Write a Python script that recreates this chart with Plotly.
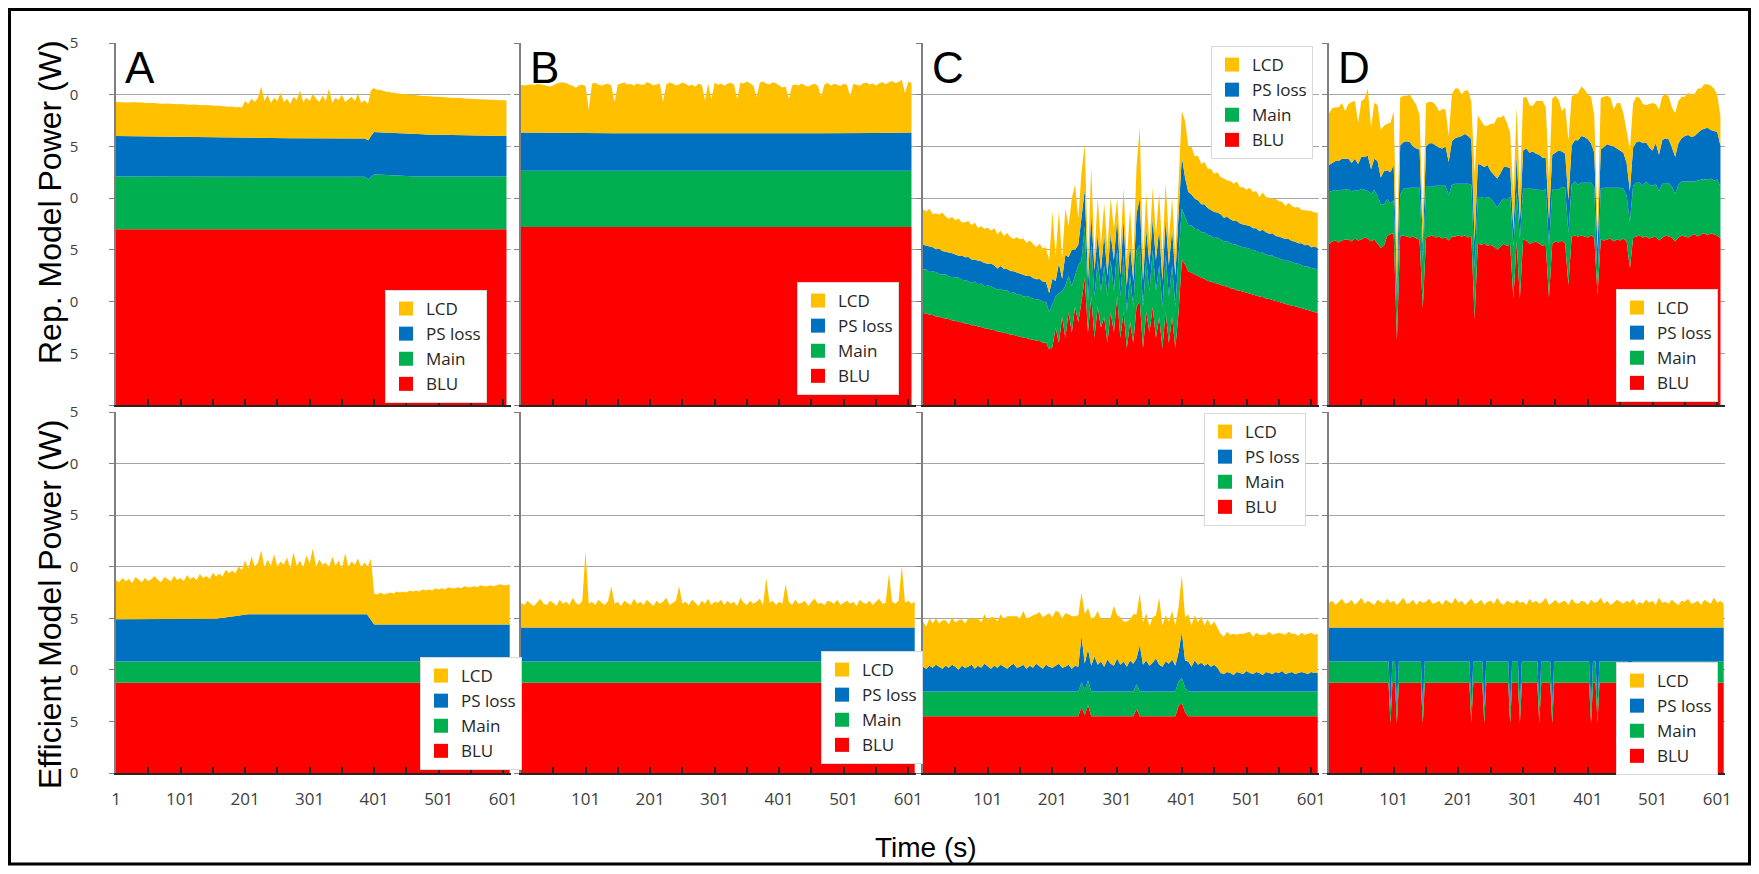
import plotly.graph_objects as go

# page is 1759x874; the browser's default 8 px body margin surrounds the figure
PAGE_OFF = 8
W, H = 1759 - 2 * PAGE_OFF, 874 - 2 * PAGE_OFF

# ---------------- data ----------------
SERIES = ["BLU", "Main", "PS loss", "LCD"]
COLORS = {"BLU": "#FF0000", "Main": "#00B050", "PS loss": "#0070C0", "LCD": "#FFC000"}
LEGEND_ORDER = ["LCD", "PS loss", "Main", "BLU"]

X_TICK_VALS = [1, 51, 101, 151, 201, 251, 301, 351, 401, 451, 501, 551, 601]
X_TICK_TEXT_FIRST = ["1", "", "101", "", "201", "", "301", "", "401", "", "501", "", "601"]
X_TICK_TEXT_OTHER = ["", "", "101", "", "201", "", "301", "", "401", "", "501", "", "601"]
Y_TICK_VALS = [0, 5, 10, 15, 20, 25, 30, 35]
Y_TICK_TEXT_REP = ["", "5", "0", "5", "0", "5", "0", "5"]
Y_TICK_TEXT_EFF = ["0", "5", "0", "5", "0", "5", "0", "5"]

T5_606 = list(range(1, 607, 5))   # time (s), every 5 s
T5_611 = list(range(1, 612, 5))

# ---- A, representative model ----
A_rep_BLU_t = [1, 606]
A_rep_BLU = [17.0, 17.0]
A_rep_Main_t = [1, 385, 392, 400, 450, 606]
A_rep_Main = [5.1, 5.1, 4.8, 5.3, 5.1, 5.1]
A_rep_PS_t = [1, 200, 385, 392, 400, 450, 606]
A_rep_PS = [3.9, 3.7, 3.7, 3.8, 4.1, 4.1, 3.9]
A_rep_LCD = [3.30, 3.28, 3.32, 3.30, 3.27, 3.29, 3.31, 3.26, 3.28, 3.25,
             3.27, 3.24, 3.26, 3.22, 3.25, 3.21, 3.23, 3.20, 3.22, 3.18,
             3.20, 3.17, 3.19, 3.15, 3.17, 3.14, 3.16, 3.12, 3.14, 3.10,
             3.12, 3.08, 3.10, 3.05, 3.07, 3.02, 3.04, 2.98, 3.00, 2.95,
             3.6, 3.3, 3.8, 3.5, 3.9, 5.0, 3.6, 4.2, 3.4, 3.9,
             3.6, 4.4, 3.5, 3.8, 3.3, 4.0, 3.7, 4.6, 3.5, 3.9,
             3.6, 4.3, 3.8, 3.5, 4.1, 3.6, 4.8, 3.4, 3.9, 3.7,
             4.2, 3.5, 3.8, 4.0, 3.6, 4.3, 3.4, 3.7, 3.5,
             4.4, 4.2, 4.1, 4.1, 4.0, 3.95, 3.95, 3.9, 3.9, 3.85,
             3.85, 3.8, 3.8, 3.8, 3.75, 3.75, 3.7, 3.72, 3.68, 3.7,
             3.66, 3.68, 3.64, 3.66, 3.62, 3.6, 3.62, 3.58, 3.6, 3.56,
             3.55, 3.56, 3.52, 3.54, 3.5, 3.52, 3.48, 3.5, 3.46, 3.48,
             3.45, 3.46, 3.44]

# ---- B, representative model ----
B_rep_BLU_t = [1, 606]
B_rep_BLU = [17.2, 17.2]
B_rep_Main_t = [1, 606]
B_rep_Main = [5.45, 5.45]
B_rep_PS_t = [1, 100, 200, 300, 400, 500, 606]
B_rep_PS = [3.7, 3.6, 3.65, 3.6, 3.65, 3.6, 3.7]
B_rep_LCD = [4.6, 4.55, 4.6, 4.65, 4.6, 4.7, 4.7, 4.6, 4.55, 4.5,
             4.6, 4.8, 4.9, 4.9, 4.85, 4.7, 4.6, 4.4, 4.65, 4.7,
             4.6, 2.3, 4.8, 4.9, 4.7, 4.6, 4.75, 4.8, 4.6, 3.0,
             4.7, 4.8, 4.9, 4.7, 4.75, 4.6, 4.8, 4.7, 4.65, 4.9,
             4.8, 4.6, 4.7, 4.8, 3.0, 4.7, 4.9, 4.8, 4.6, 4.7,
             4.9, 4.8, 4.6, 4.7, 4.5, 4.8, 4.7, 3.2, 4.8, 3.3,
             4.9, 4.7, 4.8, 4.6, 4.8, 4.9, 4.7, 3.3, 4.9, 4.8,
             5.0, 4.8, 4.6, 3.5, 4.9, 5.0, 4.8, 4.7, 4.9, 4.8,
             4.6, 4.4, 4.5, 3.3, 4.6, 4.7, 4.6, 4.8, 4.6, 4.5,
             4.7, 4.8, 4.6, 3.5, 4.7, 4.9, 4.6, 4.8, 4.7, 4.6,
             4.8, 4.7, 3.6, 4.8, 4.7, 4.6, 4.8, 4.9, 4.7, 4.8,
             4.6, 4.8, 4.9, 4.7, 4.9, 5.0, 4.8, 4.9, 5.1, 3.8,
             4.9, 4.8]

# ---- C, representative model (every 5 s, 1..611) ----
C_rep_BLU = [8.90, 8.85, 8.72, 8.70, 8.55, 8.56, 8.40, 8.38, 8.31, 8.18,
             8.16, 8.02, 8.00, 7.88, 7.85, 7.72, 7.70, 7.58, 7.55, 7.42,
             7.40, 7.28, 7.25, 7.10, 7.09, 6.95, 6.94, 6.80, 6.79, 6.66,
             6.63, 6.50, 6.48, 6.35, 6.33, 6.20, 6.18, 6.05, 6.02,
             5.4, 5.6, 7.5, 6.0, 8.5, 6.5, 9.0, 7.0, 9.5, 8.0,
             10.0, 12.3, 7.0, 10.5, 6.5, 9.5, 7.5, 8.5, 6.0, 9.0,
             7.0, 10.5, 6.5, 9.0, 5.5, 8.0, 6.0, 9.5, 10.0, 5.5,
             9.0, 7.0, 9.5, 6.5, 8.5, 5.5, 9.0, 6.0, 8.5, 5.5,
             9.0, 14.0,
             13.6, 12.9, 12.8, 12.6, 12.5, 12.3, 12.2, 12.0, 11.95, 11.8,
             11.75, 11.6, 11.5, 11.45, 11.3, 11.25, 11.1, 11.05, 10.95, 10.85,
             10.8, 10.7, 10.6, 10.5, 10.45, 10.3, 10.25, 10.15, 10.05, 9.95,
             9.9, 9.8, 9.7, 9.6, 9.55, 9.45, 9.35, 9.25, 9.2, 9.1,
             9.0, 8.9]
C_rep_Main = [4.2, 4.25, 4.15, 4.2, 4.3, 4.1, 4.2, 4.25, 4.1, 4.2,
              4.15, 4.3, 4.1, 4.2, 4.15, 4.1, 4.25, 4.1, 4.2, 4.05,
              4.15, 4.2, 4.1, 4.05, 4.15, 4.1, 4.2, 4.0, 4.1, 4.05,
              4.1, 4.0, 4.05, 4.1, 3.95, 4.05, 4.0, 3.95, 4.0,
              3.6, 4.2, 3.0, 4.8, 2.5, 5.0, 3.5, 4.5, 3.0, 5.5,
              4.0, 5.0, 3.0, 5.0, 4.0, 4.5, 3.5, 5.0, 4.5, 5.0,
              4.0, 4.5, 4.0, 5.5, 3.5, 4.5, 3.5, 5.5, 5.5, 4.0,
              5.0, 4.0, 5.5, 4.5, 5.0, 4.0, 5.5, 4.5, 5.0, 4.0,
              5.5, 5.0,
              4.6, 4.5, 4.55, 4.45, 4.5, 4.4, 4.5, 4.45, 4.4, 4.35,
              4.45, 4.4, 4.3, 4.4, 4.35, 4.3, 4.4, 4.3, 4.25, 4.35,
              4.3, 4.25, 4.3, 4.2, 4.3, 4.25, 4.2, 4.3, 4.2, 4.25,
              4.2, 4.15, 4.25, 4.2, 4.15, 4.2, 4.2, 4.15, 4.2, 4.15,
              4.2, 4.2]
C_rep_PS = [2.4, 2.3, 2.5, 2.35, 2.2, 2.45, 2.3, 2.2, 2.4, 2.3,
            2.25, 2.1, 2.35, 2.2, 2.3, 2.25, 2.1, 2.3, 2.15, 2.25,
            2.1, 2.2, 2.15, 2.05, 2.2, 2.1, 2.0, 2.15, 2.05, 2.1,
            2.0, 2.1, 1.95, 2.05, 2.0, 1.9, 2.0, 1.95, 1.9,
            1.8, 2.4, 1.5, 2.9, 1.2, 3.0, 1.8, 3.5, 2.5, 2.0,
            4.5, 3.5, 2.0, 3.0, 2.5, 2.5, 2.0, 3.0, 2.0, 2.5,
            3.0, 3.0, 2.0, 3.5, 2.5, 3.0, 2.5, 3.5, 4.5, 2.5,
            3.0, 2.5, 3.0, 3.0, 3.5, 2.5, 3.5, 3.0, 3.5, 3.0,
            4.0, 5.0,
            3.8, 3.2, 3.0, 2.9, 2.8, 2.7, 2.7, 2.6, 2.5, 2.5,
            2.4, 2.45, 2.3, 2.35, 2.3, 2.25, 2.3, 2.2, 2.25, 2.2,
            2.2, 2.15, 2.2, 2.1, 2.2, 2.15, 2.1, 2.15, 2.1, 2.1,
            2.05, 2.1, 2.1, 2.05, 2.1, 2.0, 2.1, 2.05, 2.1, 2.0,
            2.1, 2.1]
C_rep_LCD = [3.4, 3.3, 3.6, 3.2, 3.5, 3.3, 3.7, 3.4, 3.2, 3.5,
             3.3, 3.6, 3.2, 3.4, 3.5, 3.3, 3.6, 3.1, 3.4, 3.3,
             3.5, 3.2, 3.6, 3.3, 3.4, 3.2, 3.5, 3.3, 3.1, 3.4,
             3.3, 3.5, 3.2, 3.4, 3.3, 3.1, 3.4, 3.2, 3.3,
             3.2, 6.5, 2.5, 5.0, 2.0, 4.5, 3.0, 5.0, 6.3, 2.5,
             4.0, 4.4, 2.0, 4.5, 1.5, 3.5, 2.5, 3.0, 2.5, 3.5,
             3.0, 2.0, 2.5, 3.0, 2.5, 3.5, 2.0, 4.5, 6.8, 2.0,
             3.5, 2.0, 3.0, 2.5, 3.5, 2.5, 3.5, 2.5, 3.0, 2.0,
             3.5, 4.4,
             5.5, 4.4, 4.6, 4.1, 4.3, 3.9, 4.1, 3.8, 4.0, 3.7,
             3.9, 3.6, 3.8, 3.5, 3.7, 3.6, 3.8, 3.5, 3.6, 3.4,
             3.7, 3.5, 3.6, 3.3, 3.6, 3.4, 3.5, 3.3, 3.6, 3.4,
             3.5, 3.2, 3.5, 3.4, 3.3, 3.5, 3.2, 3.4, 3.3, 3.5,
             3.3, 3.4]

# ---- D, representative model (every 5 s, 1..606) ----
D_rep_BLU = [15.6, 15.8, 15.9, 15.7, 15.9, 16.0, 16.0, 15.8, 16.1, 15.9,
             16.0, 16.2, 16.1, 15.8, 16.0, 15.6, 15.2, 15.4, 16.4, 16.5,
             16.6, 6.3, 16.3, 16.4, 16.3, 16.2, 16.3, 16.1, 16.0, 9.4,
             16.2, 16.3, 16.4, 16.2, 16.3, 16.1, 16.2, 15.9, 16.3, 16.3,
             16.4, 16.3, 16.4, 16.2, 16.3, 8.4, 15.6, 15.5, 15.6, 15.4,
             15.5, 15.3, 15.0, 15.3, 15.6, 15.4, 15.5, 10.3, 15.8, 10.3,
             16.0, 15.9, 15.6, 15.7, 15.8, 15.6, 15.4, 15.5, 10.4, 15.6,
             15.8, 15.7, 15.9, 15.6, 11.6, 16.3, 16.4, 16.3, 16.4, 16.3,
             16.2, 16.4, 16.2, 10.6, 16.0, 15.9, 16.0, 16.1, 15.8, 16.0,
             15.9, 16.1, 15.8, 13.2, 16.2, 16.3, 16.4, 16.2, 16.3, 16.1,
             16.2, 16.3, 15.9, 16.2, 16.4, 16.3, 16.2, 15.8, 16.2, 16.4,
             16.3, 16.2, 16.4, 16.5, 16.3, 16.5, 16.6, 16.4, 16.6, 16.5,
             16.4, 16.1]
D_rep_Main = [5.0, 4.9, 4.9, 5.0, 4.9, 4.8, 4.9, 4.8, 4.7, 4.8,
              4.9, 4.6, 4.6, 4.6, 4.8, 4.6, 4.2, 4.0, 3.5, 3.0,
              3.2, 3.7, 4.0, 4.5, 4.6, 4.8, 4.7, 4.9, 5.0, 4.5,
              4.9, 4.8, 4.7, 5.0, 4.9, 5.1, 5.0, 4.4, 5.0, 5.1,
              5.0, 5.1, 5.0, 5.2, 5.0, 4.8, 4.5, 4.6, 4.4, 4.7,
              4.5, 4.2, 4.1, 4.3, 4.4, 4.5, 4.6, 5.0, 4.8, 5.8,
              4.9, 5.0, 5.3, 5.2, 5.0, 5.2, 5.3, 5.4, 5.0, 5.2,
              5.0, 5.1, 5.2, 5.4, 5.0, 5.0, 5.2, 5.0, 5.1, 5.2,
              5.3, 5.1, 4.8, 1.3, 4.9, 5.1, 5.0, 4.9, 5.2, 5.0,
              5.1, 4.8, 4.4, 4.5, 5.0, 5.2, 5.1, 5.0, 5.3, 5.2,
              5.0, 5.1, 4.8, 5.2, 5.0, 5.2, 4.9, 4.6, 5.1, 5.2,
              5.3, 5.4, 5.2, 5.1, 5.4, 5.3, 5.2, 5.4, 5.3, 5.2,
              5.4, 5.0]
D_rep_PS = [2.6, 2.7, 2.8, 2.9, 3.0, 3.0, 2.9, 2.8, 3.0, 2.6,
            3.1, 3.2, 3.4, 2.4, 3.0, 3.4, 2.6, 3.2, 2.8, 3.0,
            3.4, 1.6, 4.8, 4.5, 4.6, 4.4, 4.0, 3.8, 3.7, 1.5,
            3.9, 4.2, 4.2, 3.9, 3.7, 3.6, 3.8, 3.2, 4.2, 4.4,
            4.5, 4.6, 4.8, 4.6, 4.4, 2.6, 3.2, 3.1, 3.0, 3.1,
            2.6, 2.7, 2.8, 2.8, 3.0, 3.1, 2.8, 1.6, 3.6, 1.7,
            3.7, 3.9, 3.5, 3.6, 3.5, 3.4, 3.2, 3.0, 2.5, 3.4,
            3.6, 3.8, 3.4, 3.3, 3.2, 3.8, 4.0, 4.3, 4.5, 4.4,
            4.2, 3.8, 3.4, 3.2, 3.8, 4.0, 4.2, 4.1, 4.0, 3.8,
            3.6, 3.5, 3.2, 3.0, 3.7, 3.9, 4.0, 4.1, 3.8, 3.6,
            3.4, 3.9, 3.5, 4.2, 4.4, 4.2, 3.8, 3.6, 4.0, 4.2,
            4.4, 4.5, 4.3, 4.4, 4.6, 4.8, 4.9, 5.0, 4.7, 4.8,
            4.6, 4.0]
D_rep_LCD = [5.0, 5.3, 5.2, 5.2, 5.4, 4.6, 5.3, 5.9, 5.6, 4.0,
             5.4, 5.6, 6.5, 4.0, 5.4, 5.4, 4.6, 4.4, 4.5, 4.8,
             5.2, 2.9, 4.6, 4.5, 4.4, 4.6, 4.5, 4.2, 3.3, 2.6,
             4.2, 4.0, 4.0, 3.9, 3.5, 3.8, 3.6, 2.5, 4.6, 4.8,
             4.7, 4.0, 4.2, 4.4, 3.6, 6.5, 4.7, 4.3, 4.0, 3.8,
             4.6, 5.0, 5.9, 5.4, 5.0, 4.3, 3.4, 3.4, 4.6, 3.0,
             5.1, 5.0, 4.6, 4.4, 5.1, 5.2, 5.5, 4.9, 3.9, 5.4,
             5.5, 4.9, 3.9, 4.5, 5.8, 4.7, 4.4, 4.6, 4.8, 4.6,
             4.3, 4.5, 3.6, 2.2, 5.0, 4.8, 4.7, 4.6, 3.6, 4.4,
             4.6, 3.8, 3.0, 4.0, 4.3, 4.4, 4.2, 3.8, 3.6, 4.2,
             4.6, 3.8, 4.4, 4.2, 4.3, 4.1, 3.9, 4.2, 4.1, 4.0,
             3.8, 4.1, 4.1, 4.1, 4.3, 4.0, 4.3, 4.2, 4.3, 4.1,
             3.6, 2.8]

# ---- A, efficient model ----
A_eff_BLU_t = [1, 611]
A_eff_BLU = [8.75, 8.75]
A_eff_Main_t = [1, 611]
A_eff_Main = [2.05, 2.05]
A_eff_PS_t = [1, 150, 200, 390, 400, 611]
A_eff_PS = [4.1, 4.1, 4.6, 4.6, 3.6, 3.6]
A_eff_LCD = [3.8, 3.6, 4.0, 3.7, 3.9, 3.5, 4.1, 3.8, 3.6, 4.0,
             3.7, 3.9, 4.2, 3.8, 3.6, 4.1, 3.9, 3.7, 4.2, 3.8,
             4.0, 3.7, 4.3, 3.9, 4.1, 3.8, 4.4, 4.0, 4.2, 3.9,
             4.5, 4.1, 4.3, 4.0, 4.6, 4.2, 4.4, 4.1, 4.7, 4.3,
             5.2, 4.4, 5.6, 4.6, 5.0, 6.2, 4.5, 5.3, 4.7, 5.8,
             4.6, 5.1, 4.8, 5.5, 4.4, 6.0, 4.7, 5.2, 4.5, 5.7,
             4.9, 6.4, 4.6, 5.3, 4.8, 5.0, 4.5, 5.6, 4.7, 5.2,
             4.4, 5.9, 4.6, 5.1, 4.8, 5.4, 4.5, 5.0, 4.7, 6.0,
             3.0, 2.9, 3.1, 2.9, 3.0, 3.1, 3.0, 3.2, 3.1, 3.2,
             3.1, 3.3, 3.2, 3.3, 3.2, 3.4, 3.3, 3.4, 3.3, 3.5,
             3.4, 3.5, 3.4, 3.6, 3.5, 3.5, 3.6, 3.5, 3.7, 3.6,
             3.6, 3.7, 3.6, 3.8, 3.7, 3.7, 3.8, 3.7, 3.8, 3.9,
             3.8, 3.8, 3.9]

# ---- B, efficient model ----
B_eff_BLU_t = [1, 611]
B_eff_BLU = [8.75, 8.75]
B_eff_Main_t = [1, 611]
B_eff_Main = [2.05, 2.05]
B_eff_PS_t = [1, 611]
B_eff_PS = [3.3, 3.3]
B_eff_LCD = [2.4, 2.2, 2.6, 2.3, 2.1, 2.5, 2.8, 2.3, 2.2, 2.6,
             2.4, 2.1, 2.7, 2.3, 2.5, 2.2, 2.9, 2.4, 2.2, 2.6,
             7.4, 2.3, 2.5, 2.2, 2.7, 2.4, 2.2, 2.6, 4.0, 2.3,
             2.5, 2.1, 2.6, 2.4, 2.2, 2.8, 2.3, 2.5, 2.2, 2.7,
             2.4, 2.1, 2.6, 2.3, 2.5, 2.9, 2.2, 2.4, 2.6, 4.0,
             2.3, 2.5, 2.2, 2.7, 2.4, 2.1, 2.6, 2.3, 2.8, 2.2,
             2.5, 2.4, 2.7, 2.2, 2.6, 2.3, 2.5, 2.1, 2.9, 2.4,
             2.2, 2.6, 2.3, 2.5, 2.8, 2.2, 4.8, 2.4, 2.6, 2.2,
             2.5, 2.3, 4.2, 2.5, 2.2, 2.7, 2.3, 2.4, 2.6, 2.1,
             2.5, 2.8, 2.3, 2.4, 2.2, 2.6, 2.5, 2.3, 2.7, 2.2,
             2.4, 2.6, 2.3, 2.5, 2.1, 2.7, 2.4, 2.3, 2.6, 2.2,
             2.5, 2.8, 2.3, 2.4, 5.2, 2.5, 2.3, 2.6, 6.0, 2.4,
             2.6, 2.3, 2.5]

# ---- C, efficient model ----
C_eff_BLU_t = [1, 241, 246, 251, 256, 261, 326, 331, 336, 391, 396, 401, 406, 411, 611]
C_eff_BLU = [5.5, 5.5, 6.4, 5.6, 6.6, 5.5, 5.5, 6.2, 5.5, 5.5, 6.5, 6.8, 5.9, 5.5, 5.5]
C_eff_Main_t = [1, 611]
C_eff_Main = [2.4, 2.4]
C_eff_PS = [2.4, 2.2, 2.5, 2.3, 2.6, 2.4, 2.2, 2.5, 2.3, 2.6,
            2.4, 2.1, 2.5, 2.3, 2.4, 2.6, 2.2, 2.5, 2.3, 2.7,
            2.4, 2.2, 2.5, 2.3, 2.6, 2.4, 2.2, 2.5, 2.7, 2.3,
            2.4, 2.6, 2.2, 2.5, 2.3, 2.7, 2.4, 2.2, 2.6, 2.4,
            2.3, 2.5, 2.7, 2.3, 2.4, 2.6, 2.2, 2.5, 2.4,
            4.5, 2.6, 3.0, 2.5, 3.4, 2.6, 2.9, 2.4, 3.1, 2.7,
            2.5, 3.2, 2.6, 2.9, 2.4, 3.0, 2.7, 2.5, 4.5, 2.6,
            3.0, 2.5, 2.8, 3.2, 2.6, 2.4, 2.9, 2.7, 3.1, 2.5,
            2.8, 4.5, 2.6, 2.9, 2.4, 3.0, 2.6, 2.8, 2.5, 2.7,
            2.4, 2.6, 2.3,
            1.8, 1.7, 1.9, 1.8, 1.6, 1.9, 1.8, 1.7, 2.0, 1.8,
            1.7, 1.9, 1.8, 1.6, 1.9, 1.8, 1.7, 1.9, 1.8, 2.0,
            1.7, 1.8, 1.9, 1.7, 1.8, 1.9, 1.8, 1.7, 1.9, 1.8,
            1.8]
C_eff_LCD = [4.4, 4.1, 4.6, 4.3, 4.5, 4.2, 4.7, 4.4, 4.2, 4.6,
             4.3, 4.8, 4.5, 4.3, 4.7, 4.4, 4.9, 4.6, 4.4, 4.8,
             4.5, 5.0, 4.7, 4.5, 4.9, 4.6, 5.1, 4.8, 4.6, 5.0,
             4.7, 5.2, 4.9, 4.7, 5.1, 4.8, 5.3, 5.0, 4.8, 5.2,
             4.9, 5.3, 5.0, 4.8, 5.2, 4.9, 5.1, 4.8, 5.0,
             4.2, 4.8, 4.0, 4.6, 3.8, 5.2, 4.1, 4.7, 3.9, 4.5,
             5.8, 4.2, 4.6, 3.9, 4.4, 4.0, 4.8, 4.3, 5.0, 4.1,
             4.6, 3.8, 4.4, 4.2, 6.5, 4.0, 4.5, 4.1, 4.7, 3.9,
             4.4, 5.5, 4.2, 4.6, 4.0, 4.4, 4.1, 4.5, 3.9, 4.3,
             4.0, 4.2, 3.9,
             3.8, 3.6, 3.9, 3.7, 4.0, 3.6, 3.8, 3.9, 3.7, 4.0,
             3.6, 3.8, 3.7, 3.9, 3.6, 4.0, 3.8, 3.7, 3.9, 3.6,
             3.8, 4.0, 3.7, 3.9, 3.6, 3.8, 3.7, 3.9, 3.8, 3.7,
             3.8]

# ---- D, efficient model ----
D_eff_t = [1, 93, 96, 99, 103, 106, 109, 143, 146, 149, 218, 221, 224,
           238, 241, 244, 278, 281, 284, 293, 296, 299, 323, 326, 329,
           343, 346, 349, 403, 406, 409, 413, 416, 419, 463, 466, 469, 611]
D_eff_BLU = [8.75, 8.75, 4.8, 8.75, 8.75, 4.8, 8.75, 8.75, 4.8, 8.75, 8.75, 4.8, 8.75,
             8.75, 4.8, 8.75, 8.75, 4.8, 8.75, 8.75, 4.8, 8.75, 8.75, 4.8, 8.75,
             8.75, 4.8, 8.75, 8.75, 4.8, 8.75, 8.75, 4.8, 8.75, 8.75, 4.8, 8.75, 8.75]
D_eff_Main = [2.05, 2.05, 1.5, 2.05, 2.05, 1.5, 2.05, 2.05, 1.5, 2.05, 2.05, 1.5, 2.05,
              2.05, 1.5, 2.05, 2.05, 1.5, 2.05, 2.05, 1.5, 2.05, 2.05, 1.5, 2.05,
              2.05, 1.5, 2.05, 2.05, 1.5, 2.05, 2.05, 1.5, 2.05, 2.05, 1.5, 2.05, 2.05]
D_eff_PS = [3.3, 3.3, 7.8, 3.3, 3.3, 7.8, 3.3, 3.3, 7.8, 3.3, 3.3, 7.8, 3.3,
            3.3, 7.8, 3.3, 3.3, 7.8, 3.3, 3.3, 7.8, 3.3, 3.3, 7.8, 3.3,
            3.3, 7.8, 3.3, 3.3, 7.8, 3.3, 3.3, 7.8, 3.3, 3.3, 7.8, 3.3, 3.3]
D_eff_LCD = [2.4, 2.6, 2.2, 2.5, 2.8, 2.3, 2.4, 2.7, 2.2, 2.5,
             2.9, 2.3, 2.6, 2.4, 2.2, 2.7, 2.5, 2.3, 2.8, 2.4,
             2.6, 2.2, 2.5, 2.9, 2.3, 2.4, 2.7, 2.2, 2.6, 2.4,
             2.5, 2.8, 2.3, 2.4, 2.6, 2.2, 2.7, 2.5, 2.3, 2.9,
             2.4, 2.6, 2.2, 2.5, 2.8, 2.3, 2.4, 2.7, 2.2, 2.5,
             2.6, 2.3, 2.9, 2.4, 2.2, 2.6, 2.5, 2.3, 2.7, 2.4,
             2.5, 2.2, 2.8, 2.4, 2.6, 2.3, 2.5, 2.9, 2.2, 2.4,
             2.7, 2.3, 2.5, 2.6, 2.2, 2.8, 2.4, 2.3, 2.6, 2.5,
             2.2, 2.7, 2.4, 2.5, 2.9, 2.3, 2.6, 2.2, 2.4, 2.7,
             2.5, 2.3, 2.6, 2.4, 2.8, 2.2, 2.5, 2.3, 2.7, 2.4,
             2.6, 2.2, 2.9, 2.4, 2.5, 2.3, 2.7, 2.4, 2.2, 2.6,
             2.5, 2.8, 2.3, 2.4, 2.6, 2.2, 2.7, 2.5, 2.3, 2.9,
             2.4, 2.6, 2.3]

PANELS = [
    dict(row="rep", col="A", letter="A", legend_px=(385, 290), data={
        "BLU": (A_rep_BLU_t, A_rep_BLU), "Main": (A_rep_Main_t, A_rep_Main),
        "PS loss": (A_rep_PS_t, A_rep_PS), "LCD": (T5_606, A_rep_LCD)}),
    dict(row="rep", col="B", letter="B", legend_px=(797, 282), data={
        "BLU": (B_rep_BLU_t, B_rep_BLU), "Main": (B_rep_Main_t, B_rep_Main),
        "PS loss": (B_rep_PS_t, B_rep_PS), "LCD": (T5_606, B_rep_LCD)}),
    dict(row="rep", col="C", letter="C", legend_px=(1211, 46), data={
        "BLU": (T5_611, C_rep_BLU), "Main": (T5_611, C_rep_Main),
        "PS loss": (T5_611, C_rep_PS), "LCD": (T5_611, C_rep_LCD)}),
    dict(row="rep", col="D", letter="D", legend_px=(1616, 289), data={
        "BLU": (T5_606, D_rep_BLU), "Main": (T5_606, D_rep_Main),
        "PS loss": (T5_606, D_rep_PS), "LCD": (T5_606, D_rep_LCD)}),
    dict(row="eff", col="A", letter=None, legend_px=(420, 657), data={
        "BLU": (A_eff_BLU_t, A_eff_BLU), "Main": (A_eff_Main_t, A_eff_Main),
        "PS loss": (A_eff_PS_t, A_eff_PS), "LCD": (T5_611, A_eff_LCD)}),
    dict(row="eff", col="B", letter=None, legend_px=(821, 651), data={
        "BLU": (B_eff_BLU_t, B_eff_BLU), "Main": (B_eff_Main_t, B_eff_Main),
        "PS loss": (B_eff_PS_t, B_eff_PS), "LCD": (T5_611, B_eff_LCD)}),
    dict(row="eff", col="C", letter=None, legend_px=(1204, 413), data={
        "BLU": (C_eff_BLU_t, C_eff_BLU), "Main": (C_eff_Main_t, C_eff_Main),
        "PS loss": (T5_611, C_eff_PS), "LCD": (T5_611, C_eff_LCD)}),
    dict(row="eff", col="D", letter=None, legend_px=(1616, 662), data={
        "BLU": (D_eff_t, D_eff_BLU), "Main": (D_eff_t, D_eff_Main),
        "PS loss": (D_eff_t, D_eff_PS), "LCD": (T5_611, D_eff_LCD)}),
]

for p in PANELS:
    for name, (tx, vy) in p["data"].items():
        assert len(tx) == len(vy), (p["row"], p["col"], name, len(tx), len(vy))

# ---------------- layout geometry (page pixels) ----------------
COL_PX = {"A": (116, 511), "B": (521, 916), "C": (923, 1319), "D": (1329, 1725)}
ROW_PX = {"rep": (43, 405), "eff": (412, 773)}


def fx(px):
    return (px - PAGE_OFF) / W


def fy(py):
    return 1 - (py - PAGE_OFF) / H


fig = go.Figure()
layout = dict(
    width=W, height=H, autosize=False,
    margin=dict(l=0, r=0, t=0, b=0, autoexpand=False),
    paper_bgcolor="white", plot_bgcolor="white",
    showlegend=True,
    font=dict(family="Open Sans", color="#404040"),
)
annotations = []

for i, p in enumerate(PANELS, start=1):
    xs = "x" if i == 1 else f"x{i}"
    ys = "y" if i == 1 else f"y{i}"
    lg = "legend" if i == 1 else f"legend{i}"
    sg = f"stack{i}"
    for name in SERIES:
        tx, vy = p["data"][name]
        fig.add_trace(go.Scatter(
            x=tx, y=vy, name=name, mode="lines",
            line=dict(width=0, color=COLORS[name]),
            fillcolor=COLORS[name], stackgroup=sg, stackgaps="interpolate",
            xaxis=xs, yaxis=ys, showlegend=False, hoverinfo="skip"))
    for name in LEGEND_ORDER:
        fig.add_trace(go.Scatter(
            x=[None], y=[None], name=name, mode="markers",
            marker=dict(symbol="square", size=14, color=COLORS[name]),
            xaxis=xs, yaxis=ys, legend=lg, legendgroup=f"{name}{i}",
            showlegend=True, hoverinfo="skip"))

    l, r = COL_PX[p["col"]]
    t, b = ROW_PX[p["row"]]
    first_col = p["col"] == "A"
    layout["xaxis" if i == 1 else f"xaxis{i}"] = dict(
        domain=[fx(l), fx(r)], range=[1, 613], anchor=ys,
        showgrid=False, zeroline=False, showline=True,
        linecolor="#262626", linewidth=2,
        ticks="inside", ticklen=6, tickwidth=1.5, tickcolor="#262626",
        tickmode="array", tickvals=X_TICK_VALS,
        ticktext=X_TICK_TEXT_FIRST if first_col else X_TICK_TEXT_OTHER,
        showticklabels=(p["row"] == "eff"), ticklabelstandoff=10,
        tickfont=dict(family="Open Sans", size=17, color="#404040"),
        fixedrange=True)
    layout["yaxis" if i == 1 else f"yaxis{i}"] = dict(
        domain=[fy(b), fy(t)], range=[0, 35], anchor=xs,
        showgrid=True, gridcolor="#A6A6A6", gridwidth=1.3,
        zeroline=False, showline=True, linecolor="#7F7F7F", linewidth=1.5,
        ticks="outside", ticklen=5, tickwidth=1, tickcolor="#7F7F7F",
        tickmode="array", tickvals=Y_TICK_VALS,
        ticktext=Y_TICK_TEXT_REP if p["row"] == "rep" else Y_TICK_TEXT_EFF,
        showticklabels=first_col, ticklabelstandoff=28,
        tickfont=dict(family="Open Sans", size=15, color="#404040"),
        fixedrange=True)
    lx, ly = p["legend_px"]
    layout[lg] = dict(
        x=fx(lx), y=fy(ly), xanchor="left", yanchor="top",
        xref="paper", yref="paper",
        bgcolor="white", bordercolor="#D9D9D9", borderwidth=1,
        font=dict(family="Open Sans", size=17, color="#262626"),
        tracegroupgap=0, traceorder="grouped", itemsizing="trace", itemwidth=30)
    if p["letter"]:
        annotations.append(dict(
            text=p["letter"], xref="paper", yref="paper",
            x=fx(l + 7), y=fy(67), xanchor="left", yanchor="middle",
            showarrow=False, font=dict(family="Liberation Sans, Arial", size=44, color="black")))

annotations += [
    dict(text="Rep. Model Power (W)", xref="paper", yref="paper", x=fx(50), y=fy(202),
         textangle=-90, showarrow=False, xanchor="center", yanchor="middle",
         font=dict(family="Liberation Sans, Arial", size=32, color="black")),
    dict(text="Efficient Model Power (W)", xref="paper", yref="paper", x=fx(50), y=fy(605),
         textangle=-90, showarrow=False, xanchor="center", yanchor="middle",
         font=dict(family="Liberation Sans, Arial", size=32, color="black")),
    dict(text="Time (s)", xref="paper", yref="paper", x=fx(926), y=fy(847),
         showarrow=False, xanchor="center", yanchor="middle",
         font=dict(family="Liberation Sans, Arial", size=28, color="black")),
]
layout["annotations"] = annotations
layout["shapes"] = [dict(type="rect", xref="paper", yref="paper",
                         x0=fx(9.5), x1=fx(1749.5), y0=fy(864), y1=fy(9.5),
                         line=dict(color="black", width=3), fillcolor="rgba(0,0,0,0)")]

fig.update_layout(**layout)
fig.write_html("out.html")
